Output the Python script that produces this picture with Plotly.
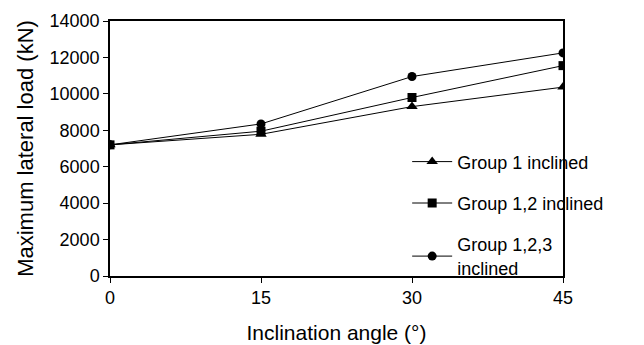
import plotly.graph_objects as go

angles = [0, 15, 30, 45]
group1 = [7200, 7780, 9300, 10370]
group12 = [7200, 7950, 9800, 11550]
group123 = [7200, 8350, 10950, 12250]
names = ["Group 1 inclined", "Group 1,2 inclined", "Group 1,2,3<br>inclined"]
symbols = ["triangle-up", "square", "circle"]

fig = go.Figure()
for i, (vals, nm, sym) in enumerate(zip([group1, group12, group123], names, symbols)):
    fig.add_trace(go.Scatter(
        x=angles, y=vals, name=nm, mode="lines+markers",
        line=dict(color="black", width=1),
        marker=dict(symbol=sym, size=9 if sym != "triangle-up" else 10, color="black"),
        legendgroup=f"g{i}",
    ))

fig.update_layout(
    width=644, height=345,
    margin=dict(l=110, r=81, t=21, b=69),
    paper_bgcolor="white", plot_bgcolor="white",
    font=dict(family="Liberation Sans, Arial, sans-serif", size=18, color="black"),
    showlegend=True,
    legend=dict(x=0.656, y=0.52, xanchor="left", yanchor="top",
                bgcolor="rgba(0,0,0,0)", font=dict(size=18),
                tracegroupgap=15, itemwidth=40),
)
fig.update_xaxes(
    range=[0, 45], tickvals=angles, ticks="outside", ticklen=5, tickcolor="black",
    showline=True, linecolor="black", linewidth=1.5, mirror=True, showgrid=False,
    zeroline=False, tickfont=dict(size=18), automargin=False,
    title=dict(text="Inclination angle (°)", font=dict(size=21), standoff=18),
)
fig.update_yaxes(
    range=[0, 14000], dtick=2000, tickformat="d", ticks="outside", ticklen=5, tickcolor="black",
    showline=True, linecolor="black", linewidth=1.5, mirror=True, showgrid=False,
    zeroline=False, tickfont=dict(size=18), automargin=False,
    title=dict(text="Maximum lateral load (kN)", font=dict(size=22), standoff=10),
)
fig.write_html("out.html")
